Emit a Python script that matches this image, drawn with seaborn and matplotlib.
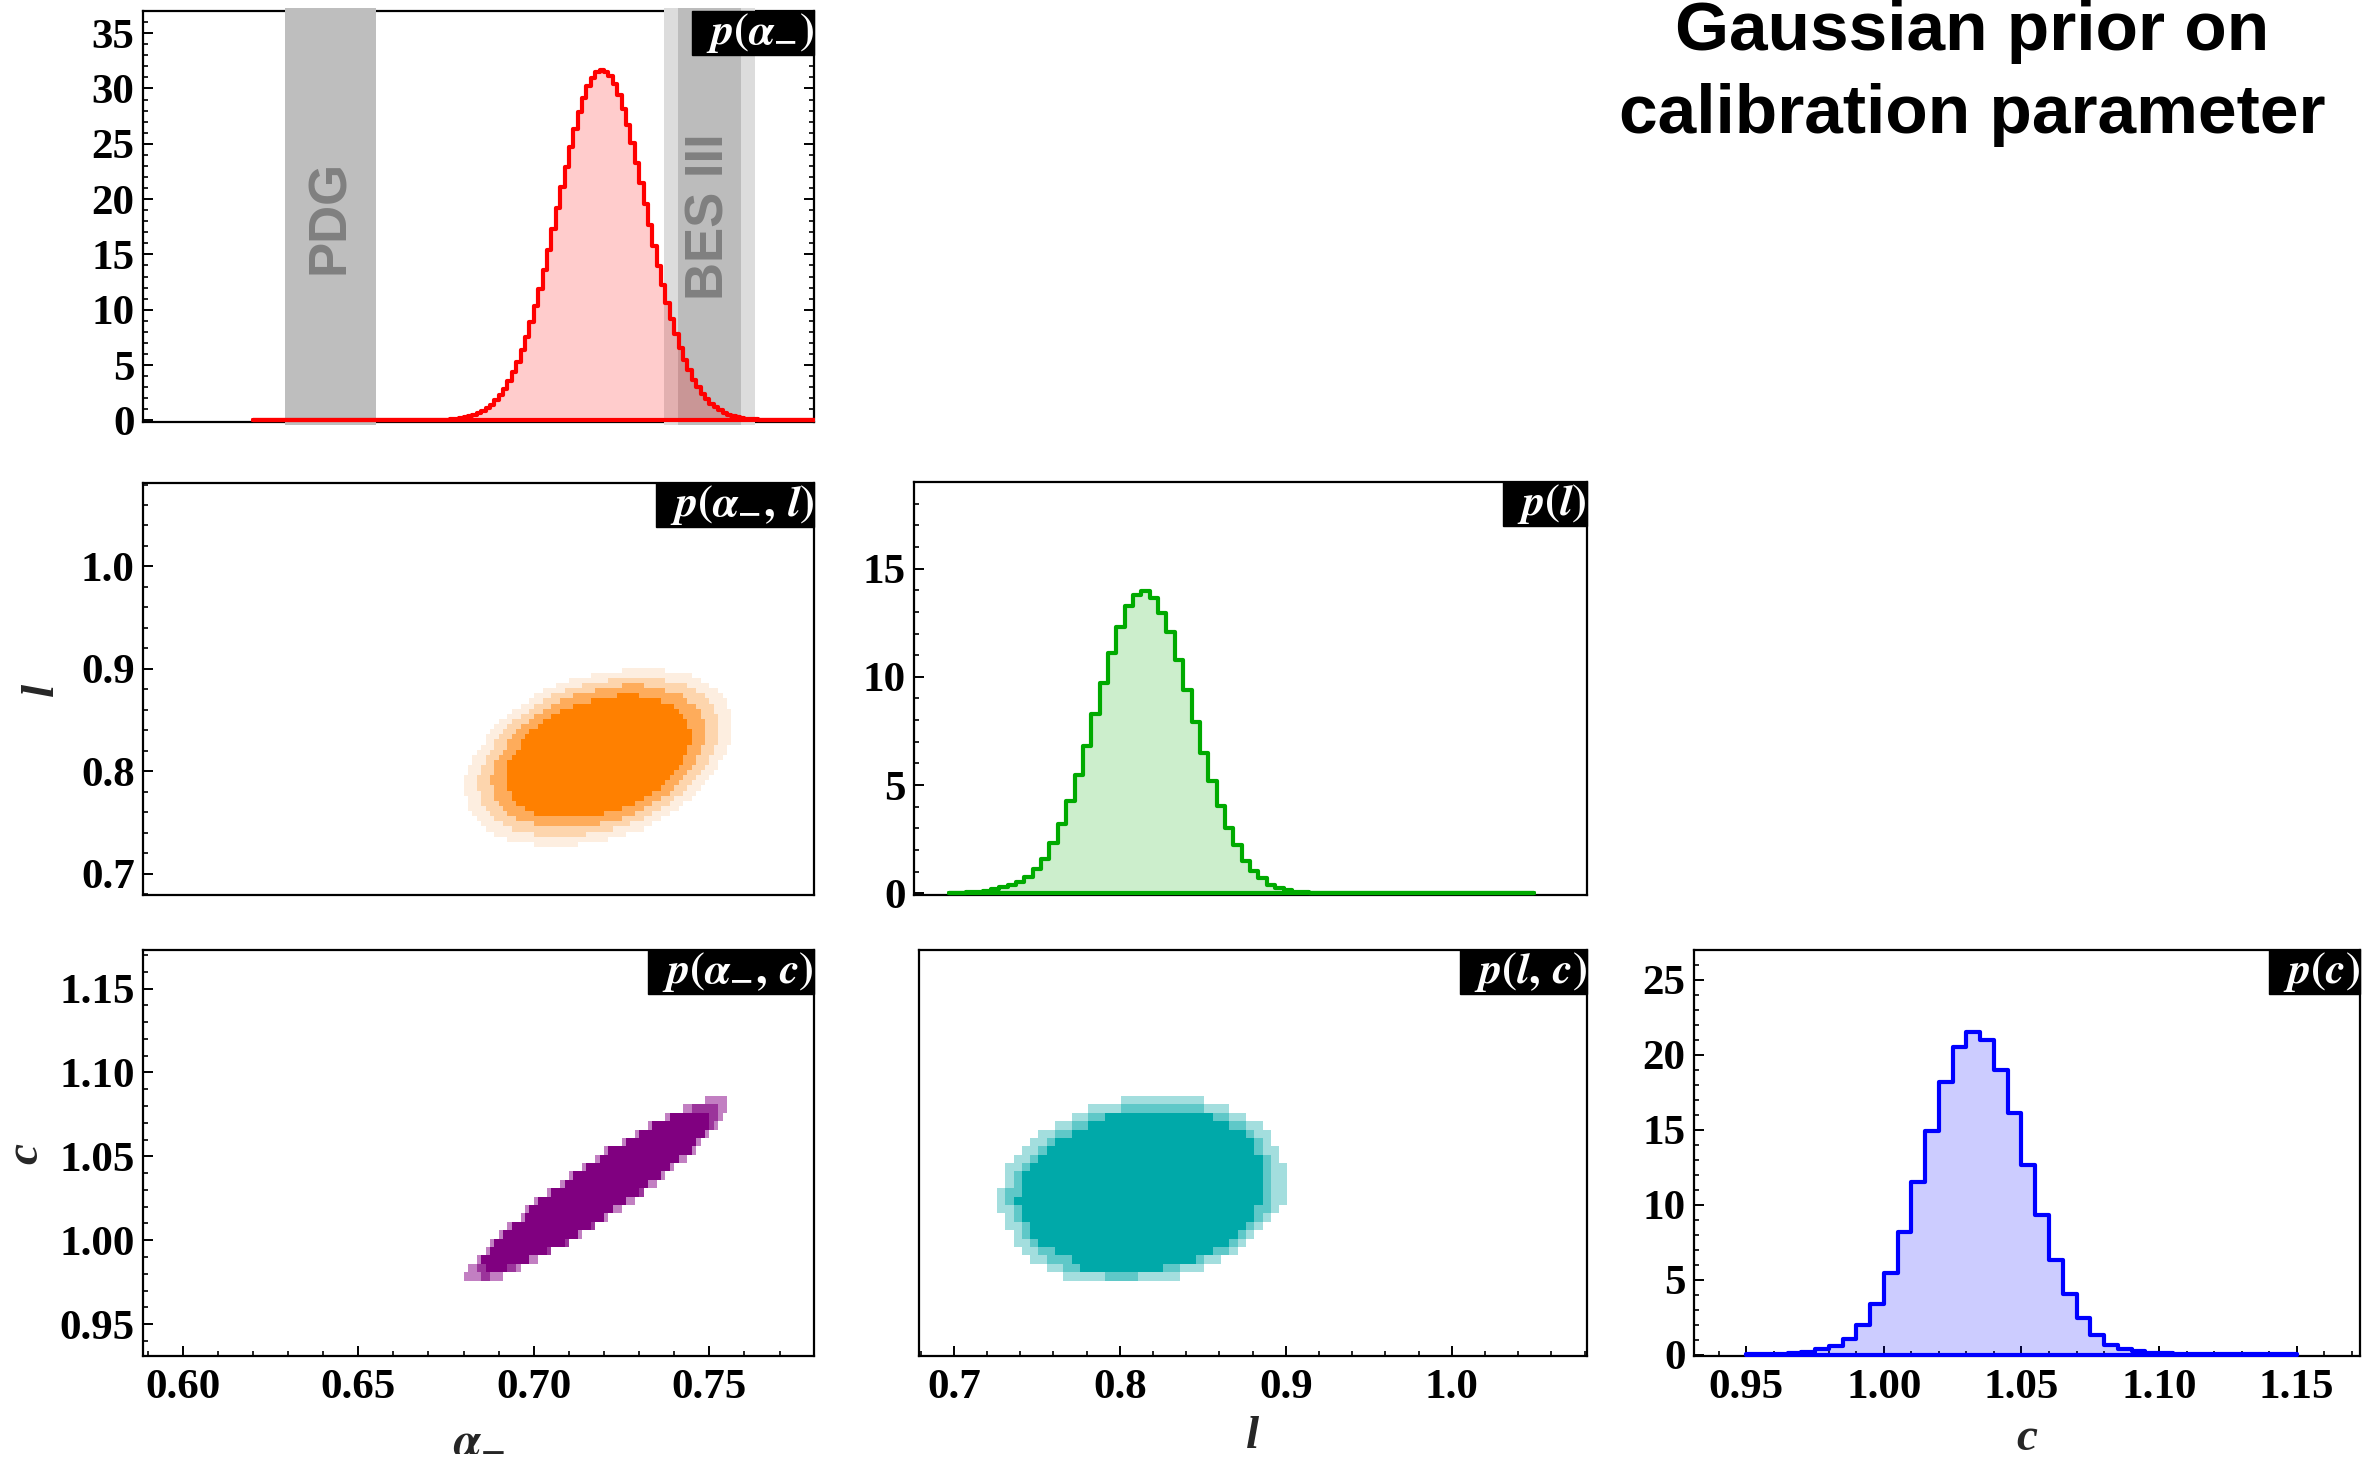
import numpy as np
import matplotlib
matplotlib.use("Agg")
import matplotlib.pyplot as plt
from matplotlib.colors import ListedColormap
from matplotlib.offsetbox import AnchoredText
from matplotlib.ticker import MultipleLocator, FormatStrFormatter
import seaborn as sns

# ---------------- marginal posteriors (bin heights) ----------------
# p(alpha_-): 128 bins of width 0.00125 starting at 0.62
alpha_bin_start = 0.62
alpha_bin_width = 0.00125
p_alpha = [
    0.0, 0.0, 0.0, 0.0, 0.0, 0.0, 0.0, 0.0, 0.0, 0.0,
    0.0, 0.0, 0.0, 0.0, 0.0, 0.0, 0.0, 0.0, 0.0, 0.0,
    0.0, 0.0, 0.0, 0.0, 0.0, 0.0, 0.0, 0.0, 0.0, 0.0,
    0.0, 0.0, 0.0, 0.0, 0.0, 0.0, 0.0, 0.0, 0.0, 0.0,
    0.02, 0.03, 0.04, 0.05, 0.07, 0.10, 0.14, 0.20, 0.27, 0.37,
    0.49, 0.65, 0.85, 1.11, 1.43, 1.82, 2.29, 2.87, 3.54, 4.34,
    5.26, 6.32, 7.52, 8.85, 10.31, 11.90, 13.62, 15.41, 17.27, 19.16,
    21.06, 22.93, 24.71, 26.37, 27.85, 29.14, 30.20, 30.98, 31.47, 31.66,
    31.53, 31.11, 30.37, 29.37, 28.13, 26.68, 25.06, 23.28, 21.44, 19.55,
    17.65, 15.78, 13.96, 12.23, 10.62, 9.13, 7.77, 6.54, 5.46, 4.51,
    3.69, 2.99, 2.40, 1.91, 1.50, 1.17, 0.90, 0.69, 0.52, 0.39,
    0.29, 0.21, 0.15, 0.11, 0.08, 0.06, 0.04, 0.03, 0.02, 0.01,
    0.0, 0.0, 0.0, 0.0, 0.0, 0.0, 0.0, 0.0,
]

# p(l): 70 bins of width 0.005 starting at 0.70
l_bin_start = 0.70
l_bin_width = 0.005
p_l = [
    0.02, 0.03, 0.05, 0.08, 0.12, 0.20, 0.30, 0.40, 0.52, 0.75,
    1.10, 1.60, 2.30, 3.20, 4.25, 5.45, 6.80, 8.30, 9.70, 11.10,
    12.30, 13.25, 13.80, 13.95, 13.65, 12.97, 12.05, 10.78, 9.40, 7.90,
    6.50, 5.17, 4.02, 3.00, 2.23, 1.50, 1.03, 0.70, 0.40, 0.23,
    0.14, 0.08, 0.05, 0.03, 0.02, 0.01, 0.01, 0.01, 0.0, 0.0,
    0.0, 0.0, 0.0, 0.0, 0.0, 0.0, 0.0, 0.0, 0.0, 0.0,
    0.0, 0.0, 0.0, 0.0, 0.0, 0.0, 0.0, 0.0, 0.0, 0.0,
]

# p(c): 40 bins of width 0.005 starting at 0.95
c_bin_start = 0.95
c_bin_width = 0.005
p_c = [
    0.02, 0.03, 0.04, 0.08, 0.20, 0.40, 0.56, 1.05, 1.94, 3.37,
    5.42, 8.19, 11.50, 14.95, 18.20, 20.50, 21.50, 21.00, 18.97, 16.10,
    12.63, 9.29, 6.32, 4.04, 2.41, 1.29, 0.63, 0.36, 0.22, 0.13,
    0.08, 0.05, 0.04, 0.03, 0.02, 0.02, 0.01, 0.01, 0.01, 0.01,
]

# measured alpha_- ranges
pdg_band = (0.629, 0.655)
bes_total_band = (0.737, 0.763)
bes_stat_band = (0.741, 0.759)

# ---------------- joint posteriors ----------------
# Each level lists, row by row from the top, the column span [first, last)
# of cells inside that credible level (None: no cell at that level).

# p(alpha_-, l): columns of 0.00125 from alpha = 0.680, rows of 0.005 below l = 0.901
al_alpha0, al_dalpha, al_ncols = 0.680, 0.00125, 61
al_ltop, al_dl = 0.901, 0.005
al_level1 = [(36, 46), (29, 52), (24, 54), (21, 56), (18, 58), (16, 59), (15, 60),
             (13, 60), (11, 61), (10, 61), (8, 61), (7, 61), (6, 61), (5, 61),
             (5, 61), (4, 60), (3, 60), (2, 59), (2, 58), (1, 58), (1, 57),
             (0, 56), (0, 55), (0, 54), (0, 53), (1, 52), (1, 50), (1, 49),
             (2, 47), (3, 45), (4, 43), (5, 41), (7, 37), (10, 33), (16, 26)]
al_level2 = [None, None, (33, 46), (27, 51), (23, 53), (20, 55), (18, 56),
             (16, 57), (15, 57), (13, 58), (11, 58), (10, 58), (9, 58), (8, 58),
             (7, 58), (7, 57), (6, 57), (5, 56), (5, 56), (4, 55), (4, 54),
             (3, 53), (3, 52), (3, 51), (4, 50), (4, 48), (4, 47), (5, 45),
             (6, 43), (7, 41), (9, 38), (11, 34), (16, 28), None, None]
al_level3 = [None, None, None, (36, 41), (30, 46), (25, 50), (22, 51),
             (20, 53), (18, 54), (16, 54), (15, 55), (13, 55), (12, 55), (11, 55),
             (10, 55), (10, 54), (9, 54), (8, 53), (7, 53), (7, 52), (7, 51),
             (6, 50), (6, 49), (7, 48), (7, 47), (7, 45), (8, 43), (9, 41),
             (10, 39), (12, 36), (16, 31), None, None, None, None]
al_level4 = [None, None, None, None, None, (35, 40), (29, 45),
             (25, 48), (22, 49), (20, 50), (18, 51), (17, 51), (15, 52), (14, 52),
             (13, 52), (13, 51), (12, 51), (11, 50), (10, 50), (10, 49), (10, 48),
             (10, 47), (10, 46), (10, 45), (11, 43), (11, 41), (12, 39), (14, 36),
             (16, 32), None, None, None, None, None, None]

# p(alpha_-, c): columns of 0.00125 from alpha = 0.680, rows of 0.005 below c = 1.086
ac_alpha0, ac_dalpha, ac_ncols = 0.680, 0.00125, 61
ac_ctop, ac_dc = 1.086, 0.005
ac_level1 = [(55, 60), (50, 60), (46, 59), (42, 58), (39, 56), (36, 54), (32, 53),
             (30, 51), (27, 48), (24, 46), (22, 44), (19, 41), (16, 39), (14, 36),
             (13, 33), (10, 30), (8, 27), (6, 24), (5, 20), (3, 17), (1, 13), (0, 9)]
ac_level2 = [None, (52, 58), (47, 58), (43, 57), (40, 55), (37, 53), (33, 52),
             (31, 49), (28, 47), (25, 45), (23, 42), (20, 41), (17, 37), (15, 34),
             (14, 32), (11, 30), (9, 26), (7, 24), (6, 20), (4, 15), (3, 12), (4, 6)]
ac_level3 = [None, None, (47, 56), (43, 56), (40, 55), (37, 53), (33, 52),
             (31, 49), (28, 47), (25, 45), (23, 42), (20, 40), (17, 37), (15, 34),
             (14, 32), (11, 29), (9, 26), (7, 23), (6, 19), (4, 15), (5, 10), None]

# p(l, c): columns of 0.005 from l = 0.726, rows of 0.005 below c = 1.086
lc_l0, lc_dl, lc_ncols = 0.726, 0.005, 35
lc_ctop, lc_dc = 1.086, 0.005
lc_level1 = [(15, 25), (11, 28), (9, 30), (7, 32), (5, 33), (4, 33), (3, 34),
             (2, 34), (1, 35), (1, 35), (1, 35), (0, 35), (0, 35), (0, 34),
             (1, 33), (1, 32), (2, 31), (2, 30), (3, 29), (4, 27), (6, 25), (8, 22)]
lc_level2 = [None, (15, 25), (11, 28), (9, 30), (7, 31), (6, 32), (5, 32),
             (4, 33), (3, 33), (2, 33), (2, 33), (1, 33), (1, 33), (2, 33),
             (2, 32), (3, 31), (3, 30), (4, 29), (5, 28), (6, 25), (8, 22), (13, 17)]
lc_level3 = [None, None, (13, 26), (11, 28), (9, 30), (7, 31), (6, 31),
             (5, 32), (4, 32), (3, 32), (3, 32), (3, 32), (2, 32), (3, 31),
             (3, 31), (4, 30), (4, 29), (5, 28), (7, 26), (9, 24), (10, 20), None]

# ---------------- styling ----------------
sns.set_theme(style="ticks")
plt.rcParams.update({
    "font.family": ["Liberation Serif", "DejaVu Serif"],
    "font.weight": "bold",
    "mathtext.fontset": "stix",
    "axes.edgecolor": "black",
    "axes.linewidth": 1.6,
    "axes.facecolor": "white",
    "text.color": "black",
    "xtick.color": "black",
    "ytick.color": "black",
    "xtick.direction": "in",
    "ytick.direction": "in",
    "xtick.major.size": 7,
    "ytick.major.size": 7,
    "xtick.minor.size": 3.5,
    "ytick.minor.size": 3.5,
    "xtick.major.width": 1.4,
    "ytick.major.width": 1.4,
    "xtick.minor.width": 1.2,
    "ytick.minor.width": 1.2,
    "xtick.labelsize": 31,
    "ytick.labelsize": 31,
    "xtick.major.pad": 9,
    "ytick.major.pad": 6,
})

W, H = 2375, 1461
fig = plt.figure(figsize=(W / 100, H / 100), dpi=100)


def panel(x0, x1, top, bottom):
    return fig.add_axes([x0 / W, 1 - bottom / H, (x1 - x0) / W, (bottom - top) / H])


ALPHA_LIM = (0.5887, 0.7798)
L_LIM = (0.679, 1.0815)
C_LIM = (0.931, 1.173)


def marginal(ax, start, width, heights, color):
    heights = np.asarray(heights, dtype=float)
    n = len(heights)
    centers = start + width * (np.arange(n) + 0.5)
    sns.histplot(x=centers, weights=heights, bins=n, binrange=(start, start + n * width),
                 element="step", fill=True, color=color, alpha=0.2, linewidth=3.0,
                 ax=ax, zorder=4)
    ax.set_xlabel("")
    ax.set_ylabel("")


def joint(ax, x0, dx, ncols, ytop, dy, levels, colors):
    nrows = len(levels[0])
    xs, ys, ws = [], [], []
    for r in range(nrows):
        row = np.zeros(ncols)
        for spans in levels:
            if spans[r] is not None:
                a, b = spans[r]
                row[a:b] += 1
        for m in np.flatnonzero(row):
            xs.append(x0 + dx * (m + 0.5))
            ys.append(ytop - dy * (r + 0.5))
            ws.append(row[m])
    sns.histplot(x=xs, y=ys, weights=ws, bins=(ncols, nrows),
                 binrange=((x0, x0 + dx * ncols), (ytop - dy * nrows, ytop)),
                 cmap=ListedColormap(colors), vmin=0.5, vmax=len(colors) + 0.5, ax=ax)
    ax.set_xlabel("")
    ax.set_ylabel("")


def axis_ticks(axis, major, minor, fmt):
    axis.set_major_locator(MultipleLocator(major))
    axis.set_minor_locator(MultipleLocator(minor))
    axis.set_major_formatter(FormatStrFormatter(fmt))


def no_ticks(ax, which):
    if which == "x":
        ax.tick_params(axis="x", which="both", bottom=False, top=False, labelbottom=False)
    else:
        ax.tick_params(axis="y", which="both", left=False, right=False, labelleft=False)


def tag(ax, s):
    at = AnchoredText(r"$\;\;$" + s + r"$\,$", loc="upper right", pad=0.0, borderpad=0.0,
                      frameon=True, prop=dict(color="white", size=32))
    at.patch.set_boxstyle("square,pad=0")
    at.patch.set_facecolor("black")
    at.patch.set_edgecolor("black")
    at.set_zorder(10)
    ax.add_artist(at)


# ---- p(alpha_-) ----
ax00 = panel(143, 814, 11, 422)
ax00.axvspan(*pdg_band, ymin=-0.008, ymax=1.008, color="#bebebe", lw=0, zorder=2.6, clip_on=False)
ax00.axvspan(*bes_total_band, ymin=-0.008, ymax=1.008, color="#dcdcdc", lw=0, zorder=2.6, clip_on=False)
ax00.axvspan(*bes_stat_band, ymin=-0.008, ymax=1.008, color="#bcbcbc", lw=0, zorder=2.7, clip_on=False)
ax00.text(np.mean(pdg_band), 18.4, "PDG", rotation=90, ha="center", va="center",
          fontsize=38, fontweight="bold", color="#808080", family="Liberation Sans", zorder=3)
ax00.text(np.mean(bes_stat_band), 18.4, "BES III", rotation=90, ha="center", va="center",
          fontsize=38, fontweight="bold", color="#808080", family="Liberation Sans", zorder=3)
marginal(ax00, alpha_bin_start, alpha_bin_width, p_alpha, "#ff0000")
ax00.set_xlim(*ALPHA_LIM)
ax00.set_ylim(-0.15, 37.0)
axis_ticks(ax00.yaxis, 5, 1, "%d")
ax00.tick_params(axis="y", which="both", right=True)
no_ticks(ax00, "x")
tag(ax00, r"$p(\alpha_{-})$")

# ---- p(alpha_-, l) ----
ax10 = panel(143, 814, 483, 895)
joint(ax10, al_alpha0, al_dalpha, al_ncols, al_ltop, al_dl,
      [al_level1, al_level2, al_level3, al_level4],
      ["#fdeee0", "#fdd5ad", "#feac5b", "#ff8000"])
ax10.set_xlim(*ALPHA_LIM)
ax10.set_ylim(*L_LIM)
axis_ticks(ax10.yaxis, 0.1, 0.02, "%.1f")
no_ticks(ax10, "x")
ax10.set_ylabel("l", fontsize=34, fontstyle="italic", fontweight="bold")
ax10.yaxis.set_label_coords(-0.150, 0.5)
ax10.yaxis.label.set_va("center")
tag(ax10, r"$p(\alpha_{-},\, l)$")

# ---- p(l) ----
ax11 = panel(914, 1587, 482, 895)
marginal(ax11, l_bin_start, l_bin_width, p_l, "#00aa00")
ax11.set_xlim(*L_LIM)
ax11.set_ylim(-0.08, 19.0)
axis_ticks(ax11.yaxis, 5, 1, "%d")
no_ticks(ax11, "x")
tag(ax11, r"$p(l)$")

# ---- p(alpha_-, c) ----
ax20 = panel(143, 814, 950, 1356)
joint(ax20, ac_alpha0, ac_dalpha, ac_ncols, ac_ctop, ac_dc,
      [ac_level1, ac_level2, ac_level3],
      ["#c27fc2", "#9b349b", "#800080"])
ax20.set_xlim(*ALPHA_LIM)
ax20.set_ylim(*C_LIM)
axis_ticks(ax20.xaxis, 0.05, 0.01, "%.2f")
axis_ticks(ax20.yaxis, 0.05, 0.01, "%.2f")
ax20.set_xlabel(r"$\alpha_{-}$", fontsize=34)
ax20.xaxis.set_label_coords(0.5, -0.203)
ax20.xaxis.label.set_va("center")
ax20.set_ylabel("c", fontsize=34, fontstyle="italic", fontweight="bold")
ax20.yaxis.set_label_coords(-0.174, 0.5)
ax20.yaxis.label.set_va("center")
tag(ax20, r"$p(\alpha_{-},\, c)$")

# ---- p(l, c) ----
ax21 = panel(919, 1587, 950, 1356)
joint(ax21, lc_l0, lc_dl, lc_ncols, lc_ctop, lc_dc,
      [lc_level1, lc_level2, lc_level3],
      ["#a3dede", "#5fc8c8", "#00a9a9"])
ax21.set_xlim(*L_LIM)
ax21.set_ylim(*C_LIM)
axis_ticks(ax21.xaxis, 0.1, 0.02, "%.1f")
no_ticks(ax21, "y")
ax21.set_xlabel("l", fontsize=34, fontstyle="italic", fontweight="bold")
ax21.xaxis.set_label_coords(0.5, -0.200)
ax21.xaxis.label.set_va("center")
tag(ax21, r"$p(l,\, c)$")

# ---- p(c) ----
ax22 = panel(1694, 2360, 950, 1356)
marginal(ax22, c_bin_start, c_bin_width, p_c, "#0000ff")
ax22.set_xlim(*C_LIM)
ax22.set_ylim(-0.1, 27.0)
axis_ticks(ax22.xaxis, 0.05, 0.01, "%.2f")
axis_ticks(ax22.yaxis, 5, 1, "%d")
ax22.set_xlabel("c", fontsize=34, fontstyle="italic", fontweight="bold")
ax22.xaxis.set_label_coords(0.5, -0.205)
ax22.xaxis.label.set_va("center")
tag(ax22, r"$p(c)$")

for ax in (ax00, ax10, ax11, ax20, ax21, ax22):
    ax.grid(False)
    for side in ("top", "right", "bottom", "left"):
        ax.spines[side].set_visible(True)
        ax.spines[side].set_color("black")
    ax.tick_params(which="both", top=False)
    if ax is not ax00:
        ax.tick_params(which="both", right=False)

# ---- headline ----
fig.text(1972 / W, 1 - 50 / H, "Gaussian prior on", ha="center", va="baseline",
         fontsize=50, fontweight="bold", family="Liberation Sans")
fig.text(1972 / W, 1 - 133 / H, "calibration parameter", ha="center", va="baseline",
         fontsize=50, fontweight="bold", family="Liberation Sans")

fig.savefig("out.png", dpi=100)
